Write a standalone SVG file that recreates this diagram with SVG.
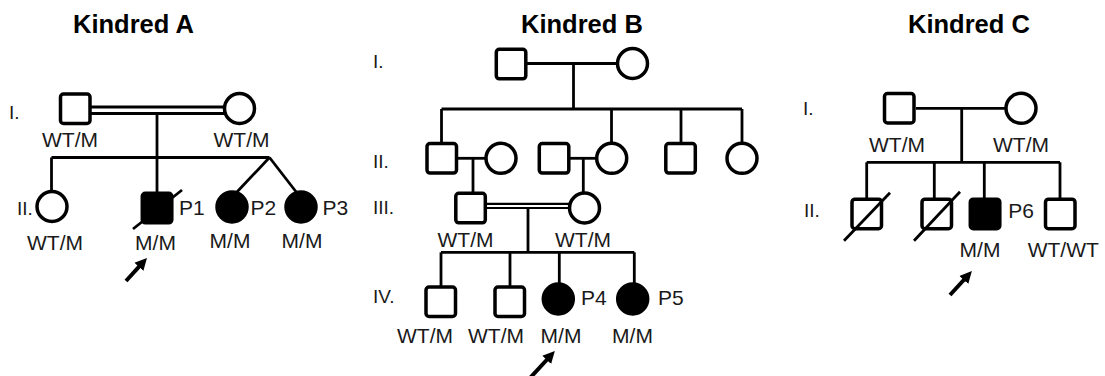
<svg xmlns="http://www.w3.org/2000/svg" width="1105" height="376" viewBox="0 0 1105 376">
<style>
.t{font-family:"Liberation Sans",Arial,sans-serif;font-size:21px;fill:#1a1a1a}
.g{font-family:"Liberation Sans",Arial,sans-serif;font-size:19px;fill:#1a1a1a}
.m{text-anchor:middle}
.h{font-family:"Liberation Sans",Arial,sans-serif;font-size:25.5px;font-weight:bold;fill:#000}
.o{fill:#fff;stroke:#000;stroke-width:3.5}
.f{fill:#000;stroke:#000;stroke-width:3.5}
.c{stroke:#000;stroke-width:2.8;fill:none}
.d{stroke:#000;stroke-width:2.2;fill:none}
.a{stroke:#000;stroke-width:4;fill:none}
</style>
<defs>
<marker id="ah" markerUnits="userSpaceOnUse" markerWidth="14" markerHeight="14" viewBox="0 -7 14 14" refX="4" refY="0" orient="auto">
<path d="M0,-6 L12,0 L0,6 z" fill="#000"/>
</marker>
</defs>
<rect width="1105" height="376" fill="#fff"/>

<text class="h" x="73" y="33">Kindred A</text>
<text class="h" x="521" y="33">Kindred B</text>
<text class="h" x="908" y="33">Kindred C</text>

<g id="connectors">
<!-- Kindred A -->
<line class="c" x1="90" y1="107" x2="224" y2="107"/>
<line class="c" x1="90" y1="113.5" x2="224" y2="113.5"/>
<line class="c" x1="157" y1="113.5" x2="157" y2="194"/>
<line class="c" x1="51.5" y1="157.5" x2="269.5" y2="157.5"/>
<line class="c" x1="51.5" y1="157.5" x2="51.5" y2="192"/>
<line class="c" x1="269.5" y1="157.5" x2="236" y2="193"/>
<line class="c" x1="269.5" y1="157.5" x2="297" y2="193"/>
<line class="c" x1="133" y1="229" x2="182" y2="190"/>
<!-- Kindred B -->
<line class="c" x1="526" y1="63.5" x2="618" y2="63.5"/>
<line class="c" x1="573.5" y1="63.5" x2="573.5" y2="109"/>
<line class="c" x1="441.5" y1="109" x2="742" y2="109"/>
<line class="c" x1="441.5" y1="109" x2="441.5" y2="144"/>
<line class="c" x1="611.5" y1="109" x2="611.5" y2="143"/>
<line class="c" x1="681" y1="109" x2="681" y2="144"/>
<line class="c" x1="742" y1="109" x2="742" y2="143"/>
<line class="c" x1="456" y1="158.3" x2="486" y2="158.3"/>
<line class="c" x1="569" y1="158.3" x2="597" y2="158.3"/>
<line class="c" x1="473" y1="158.3" x2="473" y2="194"/>
<line class="c" x1="583.3" y1="158.3" x2="583.3" y2="193"/>
<line class="d" x1="486" y1="203.8" x2="569" y2="203.8"/>
<line class="d" x1="486" y1="208" x2="569" y2="208"/>
<line class="c" x1="528" y1="208" x2="528" y2="252.3"/>
<line class="c" x1="441" y1="252.3" x2="634.3" y2="252.3"/>
<line class="c" x1="441" y1="252.3" x2="441" y2="287"/>
<line class="c" x1="510" y1="252.3" x2="510" y2="287"/>
<line class="c" x1="559.3" y1="252.3" x2="559.3" y2="284"/>
<line class="c" x1="634.3" y1="252.3" x2="634.3" y2="284"/>
<!-- Kindred C -->
<line class="c" x1="916" y1="108.3" x2="1006" y2="108.3"/>
<line class="c" x1="961.7" y1="108.3" x2="961.7" y2="162.3"/>
<line class="c" x1="866.7" y1="162.3" x2="1060" y2="162.3"/>
<line class="c" x1="866.7" y1="162.3" x2="866.7" y2="199"/>
<line class="c" x1="934.3" y1="162.3" x2="934.3" y2="199"/>
<line class="c" x1="984.3" y1="162.3" x2="984.3" y2="199"/>
<line class="c" x1="1060" y1="162.3" x2="1060" y2="199"/>
<!-- proband arrows -->
<line class="a" x1="126" y1="281" x2="141.6" y2="263.9" marker-end="url(#ah)"/>
<line class="a" x1="530" y1="378" x2="549.4" y2="357" marker-end="url(#ah)"/>
<line class="a" x1="950" y1="295" x2="966.5" y2="277" marker-end="url(#ah)"/>
</g>

<!-- Kindred A nodes -->
<g id="A-I-1"><rect class="o" x="60.5" y="94" width="29.5" height="29.5" rx="3"/><text class="t m" x="70" y="147">WT/M</text></g>
<g id="A-I-2"><circle class="o" cx="239.5" cy="108.5" r="15"/><text class="t m" x="241.5" y="147">WT/M</text></g>
<g id="A-II-1"><circle class="o" cx="52" cy="206.5" r="15"/><text class="t m" x="55" y="250">WT/M</text></g>
<g id="A-II-2"><rect class="f" x="142.3" y="193.3" width="29.5" height="29.5" rx="3"/><text class="t" x="179" y="215">P1</text><text class="t m" x="155.5" y="250">M/M</text></g>
<g id="A-II-3"><circle class="f" cx="232" cy="207" r="15"/><text class="t" x="250.5" y="215">P2</text><text class="t m" x="230" y="248">M/M</text></g>
<g id="A-II-4"><circle class="f" cx="301" cy="207" r="15"/><text class="t" x="322.5" y="215">P3</text><text class="t m" x="302" y="248">M/M</text></g>
<text class="g" x="9" y="119">I.</text>
<text class="g" x="17" y="215">II.</text>

<!-- Kindred B nodes -->
<g id="B-I-1"><rect class="o" x="496.3" y="49.3" width="29.5" height="29.5" rx="3"/></g>
<g id="B-I-2"><circle class="o" cx="632.5" cy="63.5" r="15"/></g>
<g id="B-II-1"><rect class="o" x="427" y="143.6" width="29.5" height="29.5" rx="3"/></g>
<g id="B-II-2"><circle class="o" cx="501" cy="158.3" r="15"/></g>
<g id="B-II-3"><rect class="o" x="539.3" y="143.6" width="29.5" height="29.5" rx="3"/></g>
<g id="B-II-4"><circle class="o" cx="611.7" cy="158.3" r="15"/></g>
<g id="B-II-5"><rect class="o" x="665.8" y="143.6" width="29.5" height="29.5" rx="3"/></g>
<g id="B-II-6"><circle class="o" cx="742" cy="158.3" r="15"/></g>
<g id="B-III-1"><rect class="o" x="455.8" y="193.3" width="29.5" height="29.5" rx="3"/><text class="t m" x="465.5" y="246.7">WT/M</text></g>
<g id="B-III-2"><circle class="o" cx="584.5" cy="208" r="15"/><text class="t m" x="583" y="246.7">WT/M</text></g>
<g id="B-IV-1"><rect class="o" x="426" y="287" width="29.5" height="29.5" rx="3"/><text class="t m" x="425" y="343.3">WT/M</text></g>
<g id="B-IV-2"><rect class="o" x="495" y="287" width="29.5" height="29.5" rx="3"/><text class="t m" x="496" y="343.3">WT/M</text></g>
<g id="B-IV-3"><circle class="f" cx="558.3" cy="299" r="15"/><text class="t" x="581" y="305">P4</text><text class="t m" x="561" y="343">M/M</text></g>
<g id="B-IV-4"><circle class="f" cx="632.7" cy="299" r="15"/><text class="t" x="658" y="305">P5</text><text class="t m" x="632.5" y="343">M/M</text></g>
<text class="g" x="373" y="68">I.</text>
<text class="g" x="373" y="168">II.</text>
<text class="g" x="373" y="214">III.</text>
<text class="g" x="373" y="303">IV.</text>

<!-- Kindred C nodes -->
<g id="C-I-1"><rect class="o" x="884.5" y="93.5" width="29.5" height="29.5" rx="3"/><text class="t m" x="897" y="151.7">WT/M</text></g>
<g id="C-I-2"><circle class="o" cx="1021" cy="108.3" r="15"/><text class="t m" x="1021" y="151.7">WT/M</text></g>
<g id="C-II-1"><rect class="o" x="852" y="199.2" width="29.5" height="29.5" rx="3"/><line class="c" x1="844" y1="240.7" x2="890" y2="192.7"/></g>
<g id="C-II-2"><rect class="o" x="922" y="199.2" width="29.5" height="29.5" rx="3"/><line class="c" x1="914" y1="240.7" x2="960" y2="191.7"/></g>
<g id="C-II-3"><rect class="f" x="970.3" y="199.2" width="29.5" height="29.5" rx="3"/><text class="t" x="1008.3" y="218.3">P6</text><text class="t m" x="980" y="256.7">M/M</text></g>
<g id="C-II-4"><rect class="o" x="1045.5" y="199.2" width="29.5" height="29.5" rx="3"/><text class="t m" x="1063.3" y="256.7">WT/WT</text></g>
<text class="g" x="803" y="115">I.</text>
<text class="g" x="804" y="216.7">II.</text>
</svg>
